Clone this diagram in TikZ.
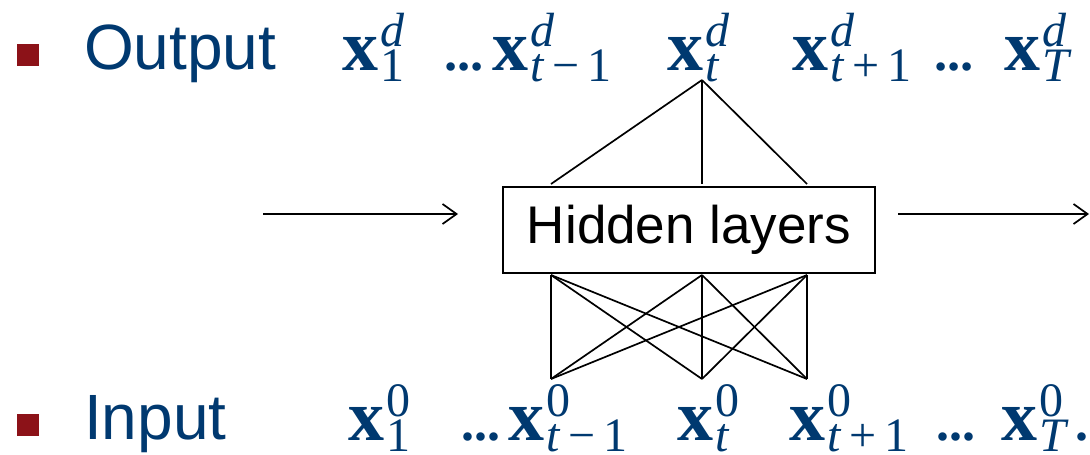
\documentclass[tikz,border=0pt]{standalone}
\usepackage{fontspec}
\setmainfont{Liberation Serif}
\newfontfamily\arialf{Liberation Sans}
\usetikzlibrary{arrows.meta}
\definecolor{navy}{RGB}{0,57,112}
\definecolor{bulletred}{RGB}{140,18,24}
\newcommand\bigf{\fontsize{72}{72}\selectfont}
\newcommand\scrf{\fontsize{48}{48}\selectfont}
\newcommand\xx[2]{{\bigf\bfseries x}\kern2pt\rlap{\raisebox{-11pt}{\scrf #1}}\raisebox{24pt}{\scrf #2}}
\newcommand\bop[1]{\kern8pt#1\kern8pt}
\newcommand\tm{\textit{t}\bop{−}1}
\newcommand\tp{\textit{t}\bop{+}1}
\begin{document}
\begin{tikzpicture}[x=1pt,y=-1pt,
  mt/.style={anchor=base west, inner sep=0pt, text=navy},
  lbl/.style={anchor=base west, inner sep=0pt, text=navy, font=\arialf\fontsize{64}{64}\selectfont},
  bullet/.style={fill=bulletred, minimum size=22pt, inner sep=0pt},
  dotsf/.style={anchor=base west, inner sep=0pt, text=navy, font=\fontsize{52}{52}\selectfont\bfseries},
  conn/.style={draw=black, line width=1.7pt},
  flow/.style={draw=black, line width=1.7pt, -{Straight Barb[length=14pt,width=20pt,line width=1.7pt]}},
  hidbox/.style={draw=black, line width=1.7pt, inner sep=0pt, minimum width=372pt, minimum height=86pt, font=\arialf\fontsize{53}{53}\selectfont}
]
\useasboundingbox (0,0) rectangle (1090,455);

% bullets and labels
\node[bullet] (b1) at (28,55) {};
\node[bullet] (b2) at (28,425) {};
\node[lbl] (outl) at (84,69) {Output};
\node[lbl] (inl) at (84,439) {Input};

% output row
\node[mt] (o1) at (342,70) {\xx{1}{\textit{d}}};
\node[dotsf] (od1) at (446,70) {\textit{...}};
\node[mt] (ot1) at (492,70) {\xx{\tm}{\textit{d}}};
\node[mt] (ot) at (667,70) {\xx{\textit{t}}{\textit{d}}};
\node[mt] (otp) at (792,70) {\xx{\tp}{\textit{d}}};
\node[dotsf] (od2) at (936,70) {\textit{...}};
\node[mt] (oT) at (1004,70) {\xx{\textit{T}}{\textit{d}}};

% input row
\node[mt] (i1) at (348,440) {\xx{1}{0}};
\node[dotsf] (id1) at (461,440) {...};
\node[mt] (it1) at (508,440) {\xx{\tm}{0}};
\node[mt] (it) at (677,440) {\xx{\textit{t}}{0}};
\node[mt] (itp) at (789,440) {\xx{\tp}{0}};
\node[dotsf] (id2) at (936,440) {...};
\node[mt] (iT) at (1001,440) {\xx{\textit{T}}{0}};
\node[dotsf] (iper) at (1075,440) {.};

% hidden box
\node[hidbox] (hid) at (689,230) {Hidden layers};

% flow arrows
\coordinate (lin) at (263,214);
\coordinate (lout) at (458,214);
\coordinate (rin) at (898,214);
\coordinate (rout) at (1089,214);
\draw[flow] (lin) -- (lout);
\draw[flow] (rin) -- (rout);

% output connections
\coordinate (apex) at (702,80);
\coordinate (ht1) at (551,184);
\coordinate (ht2) at (702,184);
\coordinate (ht3) at (807,184);
\draw[conn] (apex) -- (ht1);
\draw[conn] (apex) -- (ht2);
\draw[conn] (apex) -- (ht3);

% input connections
\coordinate (hb1) at (551,275);
\coordinate (hb2) at (702,275);
\coordinate (hb3) at (807,275);
\coordinate (in1) at (551,379);
\coordinate (in2) at (702,379);
\coordinate (in3) at (807,379);
\foreach \a in {hb1,hb2,hb3}{
  \foreach \b in {in1,in2,in3}{
    \draw[conn] (\a) -- (\b);
  }
}
\end{tikzpicture}
\end{document}
